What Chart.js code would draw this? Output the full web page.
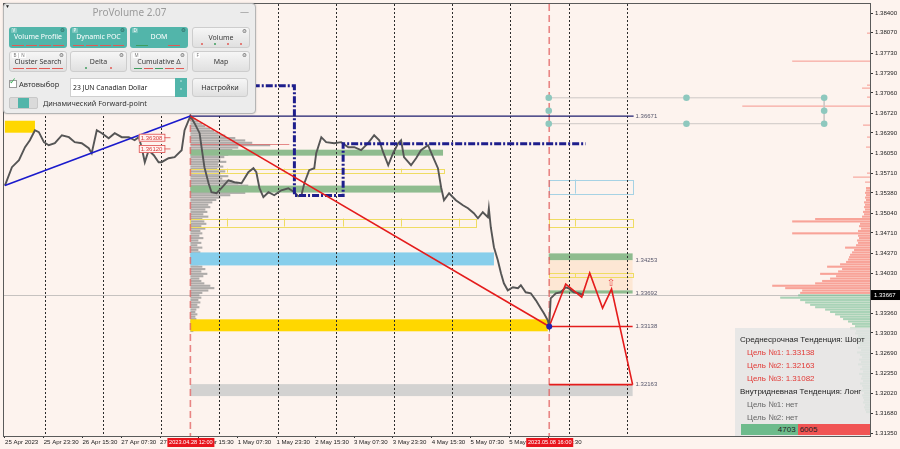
<!DOCTYPE html>
<html>
<head>
<meta charset="utf-8">
<title>CAD futures — ProVolume</title>
<script src="https://cdn.jsdelivr.net/npm/chart.js@4.4.1/dist/chart.umd.min.js"></script>
<style>
  html, body { margin: 0; padding: 0; background: #fdf3ee; }
  #wrap { position: relative; width: 900px; height: 449px; overflow: hidden; }
  #chart { position: absolute; left: 0; top: 0; }
  .ui { position: absolute; box-sizing: border-box; font-family: "Noto Sans", "Liberation Sans", sans-serif; }
  #panel { left: 3px; top: 3px; width: 253px; height: 111px; background: #ececec; border: 1px solid #b5b5b5; border-radius: 4px; box-shadow: 0 0 2px rgba(0,0,0,0.2); }
  #ptitle { left: 3px; top: 5px; width: 253px; text-align: center; font-size: 10px; color: #9b9b9b; line-height: 14px; }
  #pmin { left: 240px; top: 6px; font-size: 9px; color: #9b9b9b; line-height: 12px; }
  #ptri { left: 5px; top: 3px; font-size: 5px; color: #222; line-height: 6px; }
  .btn { position: absolute; height: 21px; border-radius: 3px; box-sizing: border-box; font-family: "Noto Sans", sans-serif; }
  .btn.on { background: #52b5aa; color: #fff; }
  .btn.off { background: linear-gradient(#f6f6f6, #e0e0e0); border: 1px solid #cdcdcd; color: #3a3a3a; }
  .btn .lbl { position: absolute; left: 0; right: 0; top: 5px; text-align: center; font-size: 7px; line-height: 10px; white-space: nowrap; }
  .btn .tag { position: absolute; left: 2px; top: 1px; font-size: 4.5px; line-height: 5px; padding: 0 1.5px; border-radius: 1px; }
  .btn.on .tag { background: rgba(255,255,255,0.25); color: #fff; }
  .btn.off .tag { background: #fff; color: #777; }
  .btn .gear { position: absolute; right: 2px; top: 0; font-size: 5.5px; line-height: 6px; color: #555; font-family: "DejaVu Sans", sans-serif; }
  .btn.on .gear { color: #2d5f59; }
  .ind { position: absolute; left: 3px; right: 3px; bottom: 2px; height: 2px; display: flex; gap: 2px; justify-content: space-around; align-items: center; }
  .ind i { display: block; flex: 1; height: 1px; }
  .ind i.d { flex: 0 0 2px; height: 2px; border-radius: 1px; }
  .ind i.s { flex: 0 0 12px; }
  .r { background: #e25a55; }
  .g { background: #3e9e5e; }
  #chk { left: 9px; top: 80px; width: 8px; height: 8px; background: #fff; border: 1px solid #9a9a9a; }
  #chkmark { left: 9px; top: 76px; font-size: 9px; color: #3cae5a; line-height: 10px; font-family: "DejaVu Sans", sans-serif; }
  #auto { left: 19px; top: 79px; font-size: 7.5px; color: #333; line-height: 11px; }
  #sel { left: 70px; top: 78px; width: 117px; height: 19px; background: #fff; border: 1px solid #cfcfcf; }
  #seltxt { left: 73px; top: 82px; font-size: 6.8px; color: #222; line-height: 11px; white-space: nowrap; }
  #spin { left: 175px; top: 78px; width: 12px; height: 19px; background: #52b5aa; color: #fff; font-size: 6px; line-height: 8px; text-align: center; padding-top: 1px; font-family: "DejaVu Sans", sans-serif; }
  #setup { left: 192px; top: 78px; width: 56px; height: 19px; border-radius: 3px; background: linear-gradient(#f6f6f6, #e0e0e0); border: 1px solid #cdcdcd; font-size: 7.2px; color: #333; text-align: center; line-height: 17px; }
  #tog { left: 9px; top: 97px; width: 29px; height: 12px; background: #dadada; border: 1px solid #c8c8c8; border-radius: 2px; }
  #togk { left: 18px; top: 98px; width: 11px; height: 10px; background: #52b5aa; }
  #fwd { left: 43px; top: 97px; font-size: 7.3px; color: #333; line-height: 12px; white-space: nowrap; }
  #info { left: 735px; top: 328px; width: 135px; height: 108px; background: rgba(228,228,228,0.86); padding-top: 5px; font-family: "Liberation Sans", Arial, sans-serif; font-size: 8px; }
  #info .ln { height: 13px; line-height: 13px; white-space: nowrap; }
  #info .hd { padding-left: 5px; color: #1e1e1e; }
  #info .red { padding-left: 12px; color: #e23a36; }
  #info .grey { padding-left: 12px; color: #666; }
  #bar { position: absolute; left: 6px; top: 96px; width: 129px; height: 11px; display: flex; font-size: 8px; line-height: 11px; color: #222; }
  #bar .buy { background: #6dbb8c; text-align: right; padding-right: 2px; box-sizing: border-box; }
  #bar .sell { background: #f05454; flex: 1; padding-left: 2px; }
</style>
</head>
<body>
<div id="wrap">
  <canvas id="chart" width="900" height="449"></canvas>

  <div id="panel" class="ui"></div>
  <div id="ptri" class="ui">▼</div>
  <div id="ptitle" class="ui">ProVolume 2.07</div>
  <div id="pmin" class="ui">—</div>

  <div class="btn on" style="left:9px;top:27px;width:58px"><span class="tag">V</span><span class="gear">⚙</span><span class="lbl">Volume Profile</span><span class="ind"><i class="r"></i><i class="r"></i><i class="r"></i><i class="r"></i></span></div>
  <div class="btn on" style="left:70px;top:27px;width:57px"><span class="tag">P</span><span class="gear">⚙</span><span class="lbl">Dynamic POC</span><span class="ind"><i class="r"></i><i class="r"></i><i class="r"></i><i class="r"></i></span></div>
  <div class="btn on" style="left:130px;top:27px;width:58px"><span class="tag">D</span><span class="gear">⚙</span><span class="lbl">DOM</span><span class="ind" style="justify-content:space-between;left:6px;right:8px"><i class="s g"></i><i class="s r"></i></span></div>
  <div class="btn off" style="left:192px;top:27px;width:58px"><span class="gear">⚙</span><span class="lbl">Volume</span><span class="ind"><i class="d r"></i><i class="d g"></i><i class="d r"></i><i class="d r"></i></span></div>

  <div class="btn off" style="left:9px;top:51px;width:58px"><span class="tag">B | N</span><span class="gear">⚙</span><span class="lbl">Cluster Search</span><span class="ind"><i class="r"></i><i class="r"></i><i class="r"></i><i class="r"></i></span></div>
  <div class="btn off" style="left:70px;top:51px;width:57px"><span class="gear">⚙</span><span class="lbl">Delta</span><span class="ind"><i class="d g"></i><i class="d r"></i></span></div>
  <div class="btn off" style="left:130px;top:51px;width:58px"><span class="tag">M</span><span class="gear">⚙</span><span class="lbl">Cumulative Δ</span><span class="ind"><i class="g"></i><i class="r"></i><i class="g"></i><i class="r"></i><i class="r"></i></span></div>
  <div class="btn off" style="left:192px;top:51px;width:58px"><span class="tag">F</span><span class="gear">⚙</span><span class="lbl">Map</span></div>

  <div id="chk" class="ui"></div>
  <div id="chkmark" class="ui">✓</div>
  <div id="auto" class="ui">Автовыбор</div>
  <div id="sel" class="ui"></div>
  <div id="seltxt" class="ui">23 JUN Canadian Dollar</div>
  <div id="spin" class="ui">˄<br>˅</div>
  <div id="setup" class="ui">Настройки</div>
  <div id="tog" class="ui"></div>
  <div id="togk" class="ui"></div>
  <div id="fwd" class="ui">Динамический Forward-point</div>

  <div id="info" class="ui"></div>
</div>

<script>
// ---- time axis: trading hours counted from 26 Apr 00:00 (weekend removed) ----
const xMin = -16.87;
const xMax = 340.3;
const yMin = 1.3130;
const yMax = 1.38553;

const xTickHours = [-16.46, -0.5, 15.5, 31.5, 47.5, 63.5, 79.5, 95.5, 111.5, 127.5, 143.5, 159.5, 175.5, 191.5, 207.5];
const xTickLabels = ["25 Apr 2023", "25 Apr 23:30", "26 Apr 15:30", "27 Apr 07:30", "27 Apr 23:30", "28 Apr 15:30",
  "1 May 07:30", "1 May 23:30", "2 May 15:30", "3 May 07:30", "3 May 23:30", "4 May 15:30", "5 May 07:30", "5 May 23:30", "8 May 15:30"];
const yTicks = [1.3840, 1.3807, 1.3773, 1.3739, 1.3706, 1.3672, 1.3639, 1.3605, 1.3571, 1.3538, 1.3504,
  1.3471, 1.3437, 1.3403, 1.3336, 1.3303, 1.3269, 1.3235, 1.3202, 1.3168, 1.3135];
const daySeparators = [0, 24, 48, 72, 96, 120, 144, 168, 192, 216, 240];
const markedHours = [60, 208];
const markedLabels = ["2023.04.28 12:00", "2023.05.08 16:00"];
const lastPrice = 1.33667;

// ---- price path ----
const barHours = [-16.5, -13.6, -10.7, -8.2, -6.2, -4.1, -2.5, -0.4, 1.6, 4.1, 7.0, 9.9, 12.3, 15.2, 18.1, 19.3,
  21.4, 23.5, 26.3, 28.8, 31.7, 34.6, 37.0, 38.7, 39.9, 41.2, 42.8, 44.9, 46.9, 48.1, 51.0, 53.5, 56.4, 57.6,
  59.3, 60.0, 61.7, 63.8, 64.6, 65.8, 67.5, 68.7, 70.8, 72.8, 75.7, 78.2, 81.1, 83.9, 86.0, 87.2, 88.5, 90.1,
  92.2, 94.6, 97.5, 100.4, 102.9, 104.5, 105.8, 107.0, 109.0, 111.1, 111.9, 114.0, 116.0, 119.3, 122.2, 125.1,
  127.6, 130.4, 133.3, 135.8, 137.9, 139.5, 141.6, 143.6, 145.7, 146.9, 148.1, 151.0, 153.1, 155.1, 158.0,
  160.1, 162.1, 163.4, 164.6, 166.7, 169.5, 172.4, 174.5, 176.9, 178.6, 180.6, 182.7, 183.1, 183.9, 185.2,
  186.8, 188.1, 189.3, 190.9, 193.0, 195.1, 196.3, 198.3, 200.4, 202.5, 204.5, 205.8, 207.4, 208.0, 208.6,
  210.7, 212.7, 214.8, 216.0, 218.1, 220.2, 222.2];
const closes = [1.35504, 1.35813, 1.35930, 1.36149, 1.36266, 1.36434, 1.36401, 1.36233, 1.36182, 1.36216, 1.36350,
  1.36317, 1.36233, 1.36216, 1.36132, 1.36048, 1.36434, 1.36384, 1.36300, 1.36384, 1.36317, 1.36317, 1.36266,
  1.36317, 1.36149, 1.35897, 1.36098, 1.36014, 1.35897, 1.35897, 1.35964, 1.35981, 1.36098, 1.36434, 1.36602,
  1.36671, 1.36552, 1.36384, 1.36149, 1.35813, 1.35544, 1.35393, 1.35376, 1.35460, 1.35594, 1.35561, 1.35544,
  1.35729, 1.35796, 1.35729, 1.35460, 1.35309, 1.35393, 1.35342, 1.35426, 1.35460, 1.35393, 1.35326, 1.35342,
  1.35544, 1.35762, 1.35796, 1.36048, 1.36317, 1.36233, 1.36216, 1.36233, 1.36149, 1.36149, 1.36098, 1.36216,
  1.36350, 1.36266, 1.36065, 1.35846, 1.36048, 1.36216, 1.36266, 1.35981, 1.35846, 1.35964, 1.36098, 1.36182,
  1.35981, 1.35796, 1.35477, 1.35258, 1.35376, 1.35258, 1.35174, 1.35124, 1.35040, 1.34956, 1.35057, 1.34973,
  1.35124, 1.34805, 1.34469, 1.34250, 1.34032, 1.33864, 1.33746, 1.33797, 1.33780, 1.33830, 1.33713, 1.33696,
  1.33578, 1.33444, 1.33360, 1.33242, 1.33138, 1.33612, 1.33696, 1.33713, 1.33797, 1.33780, 1.33713, 1.33696,
  1.33667];

// ---- trend lines and forecast ----
const blueTrendHours = [-16.5, 60];
const blueTrendPrices = [1.35504, 1.36671];
const redTrendHours = [60, 208];
const redTrendPrices = [1.36671, 1.33138];
const forecastHours = [208, 214.8, 221.4, 224.7, 230.0, 233.7, 242.4];
const forecastPrices = [1.33138, 1.33851, 1.33633, 1.34036, 1.33448, 1.33767, 1.32163];
const midTargets = [1.33138, 1.32163, 1.31082];
const dayTargets = [null, null];
const targetHours = [208, 242.4];
const swingHigh = 1.36671;
const swingHighHours = [60, 242.8];
const rangePathHours = [75, 102.9, 102.9, 123.0, 123.0, 223.0];
const rangePathPrices = [1.37179, 1.37179, 1.35337, 1.35337, 1.36208, 1.36208];
const pivotHours = [207.8, 264.6, 321.4, 207.8, 321.4, 207.8, 264.6, 321.4];
const pivotPrices = [1.36978, 1.36978, 1.36978, 1.36760, 1.36760, 1.36543, 1.36543, 1.36543];
const levelTagHour = 243.6;
const levelTags = [1.36671, 1.34253, 1.33692, 1.33138, 1.32163];
const priceTagHour = 38.7;
const priceTags = [1.36308, 1.36120];
const arrowHour = 233.5;
const arrowPrice = 1.33862;

// ---- zones: [start hour, end hour, upper price, lower price] ----
const goldZones = [[-16.5, -4.1, 1.36593, 1.36392], [60, 207.4, 1.33259, 1.33058]];
const skyZones = [[60, 185.2, 1.34382, 1.34164]];
const greenZones = [[60, 164.2, 1.36107, 1.36007], [60, 163.4, 1.35504, 1.35387],
  [207.8, 242.4, 1.34366, 1.34253], [207.8, 242.4, 1.33745, 1.33692]];
const greyZones = [[60, 242.4, 1.32171, 1.31970]];
const peachZones = [[207.8, 242.4, 1.34253, 1.33745]];
// outlined zones with their inner split times
const yellowBoxes = [[60, 164.6, 1.35789, 1.35722, [71.6, 75.3, 98.8, 146.9]],
  [60, 177.8, 1.34951, 1.34817, [71.6, 75.3, 98.8, 123.0, 146.9, 170.9]],
  [207.8, 242.4, 1.34951, 1.34817, [218.5]],
  [207.8, 242.4, 1.34036, 1.33963, [218.5]]];
const blueBoxes = [[207.8, 242.4, 1.35605, 1.35370, [218.5]]];

// ---- session volume profile (anchored at 28 Apr 12:00) ----
const leftProfileStart = 60;
const leftProfileTop = 1.3664;
const leftProfileBin = 0.0004;
const leftProfileVolumes = [5, 8, 12, 15, 20, 24, 28, 35, 45, 55, 62, 80, 48, 42, 44, 38, 34, 30, 36, 28,
  33, 27, 35, 30, 38, 32, 42, 48, 58, 66, 70, 55, 40, 30, 26, 22, 18, 20, 15, 17,
  13, 18, 12, 14, 16, 11, 15, 10, 12, 9, 13, 8, 11, 7, 12, 8, 10, 6, 9, 7,
  10, 8, 12, 15, 11, 17, 13, 9, 11, 14, 20, 24, 18, 12, 9, 11, 8, 10, 7, 9,
  6, 5, 7, 5, 6, 8, 10, 9, 6, 3];
const pocPrice = 1.36208;
const pocHours = [60, 100.8];

// ---- visible-range volume profile (right edge) ----
const rightProfileTop = 1.3548;
const rightProfileBin = 0.0004;
const rightProfileVolumes = [4, 4, 5, 4, 5, 4, 6, 5, 6, 5, 7, 6, 8, 55, 78, 10, 11, 9, 12, 78,
  12, 11, 13, 12, 14, 25, 16, 18, 20, 21, 22, 24, 30, 43, 28, 32, 50, 34, 40, 48,
  55, 98, 85, 68, 70, 72, 90, 70, 65, 60, 55, 45, 40, 35, 30, 27, 22, 18, 15, 20,
  14, 15, 12, 14, 11, 13, 10, 12, 9, 13, 10, 8, 11, 9, 12, 8, 10, 7, 11, 8,
  9, 7, 10, 8, 7, 9, 6, 8, 7, 6, 7, 5, 6, 5, 4];
const rightSparsePrices = [1.38064, 1.37594, 1.37191, 1.37141, 1.36990, 1.36839, 1.36520, 1.36319, 1.36151, 1.35714, 1.35647, 1.35563];
const rightSparseVolumes = [3, 78, 3, 8, 3, 128, 7, 3, 4, 3, 17, 5];

const volToHours = 1 / 2.43;

// ---- order flow ----
const buyVolume = 4703;
const sellVolume = 6005;

const toPoints = (hs, ps) => hs.map((h, i) => ({ x: h, y: ps[i] }));

function X(chart, h) { return chart.scales.x.getPixelForValue(h); }
function Y(chart, p) { return chart.scales.y.getPixelForValue(p); }

function fillZones(ctx, chart, zones, color) {
  ctx.fillStyle = color;
  zones.forEach(z => {
    const x1 = X(chart, z[0]), x2 = X(chart, z[1]);
    const y1 = Y(chart, z[2]), y2 = Y(chart, z[3]);
    ctx.fillRect(x1, y1, x2 - x1, y2 - y1);
  });
}

function strokeBoxes(ctx, chart, boxes, color) {
  ctx.strokeStyle = color;
  ctx.lineWidth = 1;
  boxes.forEach(b => {
    const x1 = X(chart, b[0]), x2 = X(chart, b[1]);
    const y1 = Y(chart, b[2]), y2 = Y(chart, b[3]);
    ctx.strokeRect(Math.round(x1) + 0.5, Math.round(y1) + 0.5, Math.round(x2 - x1), Math.round(y2 - y1));
    b[4].forEach(h => {
      const xs = Math.round(X(chart, h)) + 0.5;
      ctx.beginPath(); ctx.moveTo(xs, y1); ctx.lineTo(xs, y2); ctx.stroke();
    });
  });
}

function drawBins(ctx, chart, top, bin, vols, anchor, dir, colorOf) {
  vols.forEach((v, i) => {
    const hi = top - i * bin, lo = hi - bin;
    const y1 = Y(chart, hi), y2 = Y(chart, lo);
    const xa = X(chart, anchor), xb = X(chart, anchor + dir * v * volToHours);
    ctx.fillStyle = colorOf(hi - bin / 2);
    ctx.fillRect(Math.min(xa, xb), y1, Math.abs(xb - xa), y2 - y1 - 0.3);
  });
}

const scene = {
  id: 'scene',
  beforeDatasetsDraw(chart) {
    const ctx = chart.ctx, a = chart.chartArea;
    ctx.save();
    ctx.beginPath(); ctx.rect(a.left, a.top, a.right - a.left, a.bottom - a.top); ctx.clip();

    // last price line
    const yl = Math.round(Y(chart, lastPrice)) + 0.5;
    ctx.strokeStyle = '#c6c2c0'; ctx.lineWidth = 1;
    ctx.beginPath(); ctx.moveTo(a.left, yl); ctx.lineTo(a.right, yl); ctx.stroke();

    // right-edge profile
    const pink = 'rgba(246,140,128,0.78)', green = 'rgba(118,190,148,0.62)';
    drawBins(ctx, chart, rightProfileTop, rightProfileBin, rightProfileVolumes, xMax, -1,
      p => (p > lastPrice ? pink : green));
    rightSparsePrices.forEach((p, i) => {
      const y = Y(chart, p);
      const xb = X(chart, xMax - rightSparseVolumes[i] * volToHours);
      ctx.fillStyle = 'rgba(246,150,140,0.75)';
      ctx.fillRect(xb, y - 0.6, a.right - xb, 1.3);
    });

    // session profile
    drawBins(ctx, chart, leftProfileTop, leftProfileBin, leftProfileVolumes, leftProfileStart, 1,
      () => 'rgba(140,140,140,0.7)');
    const yp = Math.round(Y(chart, pocPrice)) + 0.5;
    ctx.strokeStyle = 'rgba(222,110,110,0.8)'; ctx.lineWidth = 1;
    ctx.beginPath(); ctx.moveTo(X(chart, pocHours[0]), yp); ctx.lineTo(X(chart, pocHours[1]), yp); ctx.stroke();

    // zones
    fillZones(ctx, chart, peachZones, 'rgba(252,218,180,0.45)');
    fillZones(ctx, chart, greyZones, '#d3d2d1');
    fillZones(ctx, chart, goldZones, '#ffd700');
    fillZones(ctx, chart, skyZones, '#87ceeb');
    fillZones(ctx, chart, greenZones, '#8fbc8f');
    strokeBoxes(ctx, chart, yellowBoxes, '#efdc62');
    strokeBoxes(ctx, chart, blueBoxes, '#a6d2e4');

    // day separators
    ctx.strokeStyle = '#2b2b2b'; ctx.lineWidth = 1; ctx.setLineDash([2, 2]);
    daySeparators.forEach(h => {
      const x = Math.round(X(chart, h)) + 0.5;
      ctx.beginPath(); ctx.moveTo(x, a.top); ctx.lineTo(x, a.bottom); ctx.stroke();
    });

    // marked bars
    ctx.strokeStyle = 'rgba(226,96,96,0.75)'; ctx.lineWidth = 1.6; ctx.setLineDash([7, 4]);
    markedHours.forEach(h => {
      const x = X(chart, h);
      ctx.beginPath(); ctx.moveTo(x, a.top); ctx.lineTo(x, a.bottom); ctx.stroke();
    });
    ctx.setLineDash([]);
    ctx.restore();
  },
  afterDatasetsDraw(chart) {
    const ctx = chart.ctx;
    ctx.save();
    ctx.font = '6px "Liberation Sans", Arial, sans-serif';
    ctx.textBaseline = 'middle';
    ctx.fillStyle = '#55556a';
    levelTags.forEach(p => ctx.fillText(p.toFixed(5), X(chart, levelTagHour), Y(chart, p)));

    // red price tags
    priceTags.forEach(p => {
      const x = X(chart, priceTagHour), y = Y(chart, p);
      const t = p.toFixed(5), w = ctx.measureText(t).width + 4;
      ctx.fillStyle = '#fff2ef'; ctx.fillRect(x, y - 4, w, 8);
      ctx.strokeStyle = '#de4b4b'; ctx.lineWidth = 0.8; ctx.strokeRect(x + 0.5, y - 3.5, w, 7);
      ctx.beginPath(); ctx.moveTo(x + w, y); ctx.lineTo(x + w + 6, y); ctx.stroke();
      ctx.fillStyle = '#d83a3a'; ctx.fillText(t, x + 2, y + 0.5);
    });

    // forecast arrow
    ctx.font = '10px "DejaVu Sans", sans-serif';
    ctx.textAlign = 'center';
    ctx.fillStyle = '#e84a4a';
    ctx.fillText('⇧', X(chart, arrowHour), Y(chart, arrowPrice));
    ctx.restore();
  },
  afterDraw(chart) {
    const ctx = chart.ctx, a = chart.chartArea;
    ctx.save();
    ctx.strokeStyle = '#5a5a5a'; ctx.lineWidth = 1;
    ctx.strokeRect(a.left - 0.5, a.top - 0.5, a.right - a.left + 1, a.bottom - a.top + 1);

    // highlighted bar times
    ctx.font = '5.6px "Liberation Sans", Arial, sans-serif';
    ctx.textAlign = 'center'; ctx.textBaseline = 'middle';
    markedHours.forEach((h, i) => {
      const x = X(chart, h);
      ctx.fillStyle = '#e8141c'; ctx.fillRect(x - 23, a.bottom + 2, 47, 9);
      ctx.fillStyle = '#ffffff'; ctx.fillText(markedLabels[i], x + 0.5, a.bottom + 6.7);
    });

    // last price box
    const y = Y(chart, lastPrice);
    ctx.font = '6px "Liberation Sans", Arial, sans-serif';
    ctx.fillStyle = '#000'; ctx.fillRect(a.right + 1, y - 5, 29, 10);
    ctx.fillStyle = '#fff'; ctx.textAlign = 'left';
    ctx.fillText(lastPrice.toFixed(5), a.right + 4, y + 0.5);
    ctx.restore();
  }
};

const axisFont = { family: '"Liberation Sans", Arial, sans-serif', size: 6.1 };

new Chart(document.getElementById('chart'), {
  type: 'line',
  data: {
    datasets: [
      { data: toPoints(pivotHours, pivotPrices), showLine: false, pointRadius: 3.3, pointBackgroundColor: '#8ec8be', pointBorderWidth: 0, order: 0 },
      { data: [{ x: redTrendHours[1], y: redTrendPrices[1] }], showLine: false, pointRadius: 3, pointBackgroundColor: '#2222b0', pointBorderWidth: 0, order: 0 },
      { data: toPoints(forecastHours, forecastPrices), borderColor: '#e41c1c', borderWidth: 1.6, order: 1 },
      ...midTargets.map(t => ({ data: toPoints(targetHours, [t, t]), borderColor: '#e41c1c', borderWidth: 1.6, order: 1 })),
      { data: toPoints(redTrendHours, redTrendPrices), borderColor: '#e41c1c', borderWidth: 1.6, order: 1 },
      { data: toPoints(blueTrendHours, blueTrendPrices), borderColor: '#1a1acc', borderWidth: 1.6, order: 1 },
      { data: toPoints(swingHighHours, [swingHigh, swingHigh]), borderColor: '#1c1c6e', borderWidth: 1.4, order: 1 },
      { data: toPoints(rangePathHours, rangePathPrices), borderColor: '#1e1e8c', borderWidth: 3, borderDash: [7, 2, 2, 2], order: 2 },
      { data: toPoints([pivotHours[0], pivotHours[2]], [pivotPrices[0], pivotPrices[2]]), borderColor: '#cdc8c6', borderWidth: 1, order: 5 },
      { data: toPoints([pivotHours[5], pivotHours[7]], [pivotPrices[5], pivotPrices[7]]), borderColor: '#cdc8c6', borderWidth: 1, order: 5 },
      { data: toPoints([pivotHours[2], pivotHours[7]], [pivotPrices[2], pivotPrices[7]]), borderColor: '#cdc8c6', borderWidth: 1, order: 5 },
      { data: toPoints(barHours, closes), borderColor: '#555555', borderWidth: 1.9, order: 3 }
    ]
  },
  options: {
    responsive: false,
    animation: false,
    devicePixelRatio: 1,
    layout: { padding: { left: 2, top: 3, right: 0, bottom: 0 } },
    plugins: { legend: { display: false }, tooltip: { enabled: false } },
    elements: { point: { radius: 0 }, line: { tension: 0, fill: false } },
    scales: {
      x: {
        type: 'linear', min: xMin, max: xMax,
        afterBuildTicks: s => { s.ticks = xTickHours.map(v => ({ value: v })); },
        afterFit: s => { s.height = 13; s.paddingLeft = 0; s.paddingRight = 0; },
        ticks: { autoSkip: false, maxRotation: 0, align: 'start', padding: 1, color: '#222', font: axisFont,
          callback: (v, i) => xTickLabels[i] },
        grid: { drawOnChartArea: false, tickLength: 2, color: '#333' },
        border: { color: '#333' }
      },
      y: {
        type: 'linear', position: 'right', min: yMin, max: yMax,
        afterBuildTicks: s => { s.ticks = yTicks.map(v => ({ value: v })); },
        afterFit: s => { s.width = 30; s.paddingTop = 0; s.paddingBottom = 0; },
        ticks: { autoSkip: false, padding: 2, color: '#222', font: axisFont, callback: v => v.toFixed(5) },
        grid: { drawOnChartArea: false, tickLength: 3, color: '#333' },
        border: { color: '#333' }
      }
    }
  },
  plugins: [scene]
});

// ---- trend summary box ----
const info = document.getElementById('info');
let html = '<div class="ln hd">Среднесрочная Тенденция: Шорт</div>';
midTargets.forEach((t, i) => { html += `<div class="ln red">Цель №${i + 1}: ${t.toFixed(5)}</div>`; });
html += '<div class="ln hd">Внутридневная Тенденция: Лонг</div>';
dayTargets.forEach((t, i) => { html += `<div class="ln grey">Цель №${i + 1}: ${t === null ? 'нет' : t.toFixed(5)}</div>`; });
const buyShare = buyVolume / (buyVolume + sellVolume);
html += `<div id="bar"><div class="buy" style="width:${(buyShare * 100).toFixed(2)}%">${buyVolume}</div><div class="sell">${sellVolume}</div></div>`;
info.innerHTML = html;
</script>
</body>
</html>
